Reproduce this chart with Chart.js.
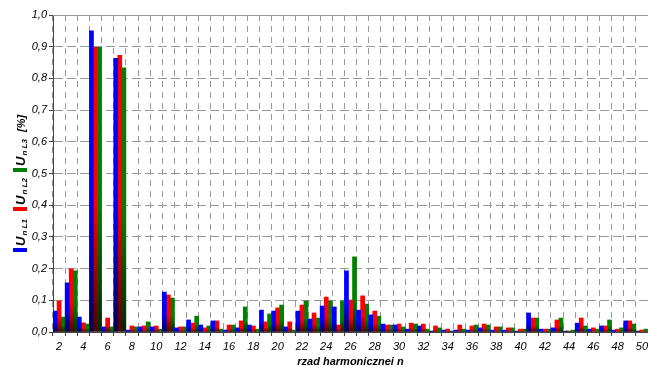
<!DOCTYPE html>
<html>
<head>
<meta charset="utf-8">
<script src="https://cdn.jsdelivr.net/npm/chart.js@4/dist/chart.umd.min.js"></script>
<style>
  html, body { margin: 0; padding: 0; background: #fff; overflow: hidden; }
  #wrap { width: 648px; height: 367px; position: relative; }
</style>
</head>
<body>
<div id="wrap"><canvas id="chart"></canvas></div>
<script>
// harmonic order n = 2..50
const harmonics = [2, 3, 4, 5, 6, 7, 8, 9, 10, 11, 12, 13, 14, 15, 16, 17, 18, 19, 20, 21, 22, 23, 24, 25, 26,
  27, 28, 29, 30, 31, 32, 33, 34, 35, 36, 37, 38, 39, 40, 41, 42, 43, 44, 45, 46, 47, 48, 49, 50];

// U_nL1, U_nL2, U_nL3 in %
const uL1 = [0.066, 0.155, 0.047, 0.950, 0.016, 0.863, 0.006, 0.016, 0.016, 0.126, 0.013, 0.038, 0.022, 0.035, 0.006,
  0.013, 0.022, 0.069, 0.066, 0.016, 0.066, 0.041, 0.082, 0.079, 0.193, 0.069, 0.054, 0.025, 0.022, 0.009,
  0.019, 0.003, 0.006, 0.006, 0.006, 0.013, 0.006, 0.006, 0.003, 0.060, 0.009, 0.013, 0.003, 0.028, 0.009,
  0.019, 0.006, 0.035, 0.003];
const uL2 = [0.098, 0.199, 0.029, 0.898, 0.044, 0.873, 0.019, 0.019, 0.019, 0.117, 0.016, 0.028, 0.013, 0.035, 0.022,
  0.035, 0.019, 0.032, 0.076, 0.032, 0.085, 0.060, 0.110, 0.022, 0.101, 0.114, 0.066, 0.022, 0.025, 0.028,
  0.025, 0.019, 0.009, 0.022, 0.019, 0.025, 0.016, 0.013, 0.009, 0.044, 0.009, 0.038, 0.003, 0.044, 0.013,
  0.019, 0.009, 0.035, 0.006];
const uL3 = [0.047, 0.193, 0.025, 0.898, 0.016, 0.833, 0.016, 0.032, 0.009, 0.107, 0.016, 0.050, 0.019, 0.009, 0.022,
  0.079, 0.009, 0.057, 0.085, 0.006, 0.098, 0.044, 0.098, 0.098, 0.237, 0.088, 0.050, 0.022, 0.016, 0.025,
  0.009, 0.013, 0.003, 0.009, 0.022, 0.022, 0.016, 0.013, 0.009, 0.044, 0.009, 0.044, 0.006, 0.019, 0.009,
  0.038, 0.013, 0.025, 0.009];

const yTickLabels = ['0,0', '0,1', '0,2', '0,3', '0,4', '0,5', '0,6', '0,7', '0,8', '0,9', '1,0'];
const seriesNames = ['L1', 'L2', 'L3'];
const xTitle = 'rzad harmonicznei n';

const FONT = '"Liberation Sans", Arial, sans-serif';
Chart.defaults.font.family = FONT;
Chart.defaults.color = '#000';

// bright at the top, dark near the base, like the original
function barFill(top, bottom) {
  return (ctx) => {
    const chart = ctx.chart;
    if (!chart.chartArea || ctx.type !== 'data') return top;
    const y = chart.scales.y;
    const y0 = y.getPixelForValue(ctx.raw);
    const y1 = y.getPixelForValue(0);
    if (y1 - y0 < 1) return bottom;
    const g = chart.ctx.createLinearGradient(0, y0, 0, y1);
    g.addColorStop(0, top);
    g.addColorStop(0.55, top);
    g.addColorStop(1, bottom);
    return g;
  };
}

const colors = [
  ['#0000ff', '#000050'],
  ['#ff0000', '#500000'],
  ['#008000', '#002800']
];

// rotated legend on the left + solid top line
const sideLegend = {
  id: 'sideLegend',
  afterDraw(chart) {
    const ctx = chart.ctx;
    const area = chart.chartArea;
    ctx.save();
    ctx.strokeStyle = '#999';
    ctx.lineWidth = 1;
    ctx.beginPath();
    ctx.moveTo(area.left, Math.round(area.top) + 0.5);
    ctx.lineTo(area.right, Math.round(area.top) + 0.5);
    ctx.stroke();

    const entries = [
      { c: colors[0][0], y: 252 },
      { c: colors[1][0], y: 211 },
      { c: colors[2][0], y: 172 }
    ];
    const big = 'bold italic 13px ' + FONT;
    const small = 'bold italic 8px ' + FONT;
    entries.forEach((e, i) => {
      ctx.fillStyle = e.c;
      ctx.fillRect(13, e.y - 4, 14, 4);
      ctx.save();
      ctx.translate(25, e.y - 6);
      ctx.rotate(-Math.PI / 2);
      ctx.fillStyle = '#000';
      ctx.textBaseline = 'alphabetic';
      ctx.font = big;
      ctx.fillText('U', 0, 0);
      const w = ctx.measureText('U').width;
      ctx.font = small;
      ctx.fillText('n L' + seriesNames[i].slice(1), w + 1, 2);
      ctx.restore();
    });
    ctx.save();
    ctx.translate(25, 132);
    ctx.rotate(-Math.PI / 2);
    ctx.fillStyle = '#000';
    ctx.font = 'bold italic 11px ' + FONT;
    ctx.fillText('[%]', 0, 0);
    ctx.restore();
    ctx.restore();
  }
};

new Chart(document.getElementById('chart'), {
  type: 'bar',
  data: {
    labels: harmonics,
    datasets: [uL1, uL2, uL3].map((d, i) => ({
      label: 'U_n' + seriesNames[i],
      data: d,
      backgroundColor: barFill(colors[i][0], colors[i][1]),
      borderWidth: 0,
      categoryPercentage: 1,
      barPercentage: 1
    }))
  },
  options: {
    responsive: true,
    maintainAspectRatio: false,
    animation: false,
    layout: { padding: { top: 15, right: 0, left: 0, bottom: 0 } },
    plugins: {
      legend: { display: false },
      tooltip: { enabled: false }
    },
    scales: {
      x: {
        grid: {
          color: '#999',
          offset: true,
          tickLength: 4,
          tickColor: '#444',
          tickBorderDash: []
        },
        border: { color: '#444', dash: [6, 5] },
        ticks: {
          autoSkip: false,
          maxRotation: 0,
          minRotation: 0,
          padding: 4,
          font: { size: 11, style: 'italic' },
          callback: (v, i) => (harmonics[i] % 2 === 0 ? String(harmonics[i]) : '')
        },
        title: {
          display: true,
          text: xTitle,
          font: { size: 11, style: 'italic', weight: 'bold', lineHeight: 1 },
          padding: { top: 0, bottom: 0 }
        },
        afterFit(scale) {
          scale.height = 35;
          scale.paddingLeft = 0;
          scale.paddingRight = 0;
        }
      },
      y: {
        min: 0,
        max: 1,
        grid: {
          color: '#999',
          tickLength: 4,
          tickColor: '#444',
          tickBorderDash: []
        },
        border: { color: '#444', dash: [9, 4] },
        ticks: {
          stepSize: 0.1,
          padding: 2,
          font: { size: 11, style: 'italic' },
          callback: (v, i) => yTickLabels[i]
        },
        afterFit(scale) {
          scale.width = 53;
        }
      }
    }
  },
  plugins: [sideLegend]
});
</script>
</body>
</html>
